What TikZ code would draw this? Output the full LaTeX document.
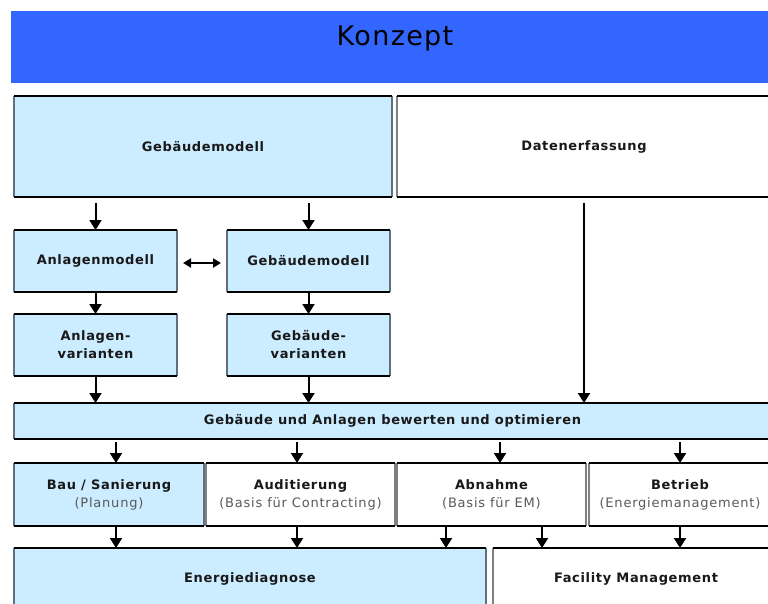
\documentclass[tikz,border=0pt]{standalone}
\usepackage{fontspec}
\setmainfont{DejaVu Sans}
\newfontfamily\lblfont[LetterSpace=5]{DejaVu Sans}
\newfontfamily\subfont[LetterSpace=6]{DejaVu Sans}
\newfontfamily\ttlfont[LetterSpace=5]{DejaVu Sans}
\usetikzlibrary{arrows.meta,calc}
\definecolor{hdr}{RGB}{51,102,255}
\definecolor{lb}{RGB}{204,236,255}
\definecolor{sideb}{RGB}{96,112,128}
\definecolor{sidew}{RGB}{128,128,128}
\definecolor{subgray}{RGB}{90,90,90}
\newcommand\subtxt[1]{{\subfont\mdseries\color{subgray}#1}}
\begin{document}
\begin{tikzpicture}[x=1pt,y=-1pt,
  boxbase/.style={rectangle, inner sep=0pt, outer sep=0pt, align=center,
    font=\lblfont\bfseries\fontsize{13}{18}\selectfont, text=black!90},
  bbox/.style={boxbase, fill=lb},
  wbox/.style={boxbase, fill=white},
  arr/.style={line width=2pt, -{Triangle[width=12pt,length=10pt]}},
  dbl/.style={line width=2pt, {Triangle[width=9pt,length=8pt]}-{Triangle[width=9pt,length=8pt]}}
]
\useasboundingbox (0,0) rectangle (768,603);
\clip (0,0) rectangle (768,603);

% header
\node[rectangle, fill=hdr, minimum width=760pt, minimum height=72pt, inner sep=0pt] (hdr) at (391,47) {};
\node[font=\ttlfont\fontsize{27}{30}\selectfont, text=black] (ttl) at (395,38) {Konzept};

% boxes
\node[bbox, minimum width=378pt, minimum height=101pt] (gm) at (203,146.5) {Gebäudemodell};
\node[wbox, minimum width=374pt, minimum height=101pt] (de) at (584,146.5) {Datenerfassung};

\node[bbox, minimum width=163pt, minimum height=62pt] (am) at (95.5,261) {Anlagenmodell};
\node[bbox, minimum width=163pt, minimum height=62pt] (gm2) at (308.5,261) {Gebäudemodell};

\node[bbox, minimum width=163pt, minimum height=62pt] (av) at (95.5,345) {Anlagen-\\varianten};
\node[bbox, minimum width=163pt, minimum height=62pt] (gv) at (308.5,345) {Gebäude-\\varianten};

\node[bbox, minimum width=757pt, minimum height=36pt] (bar) at (392.5,421) {Gebäude und Anlagen bewerten und optimieren};

\node[bbox, minimum width=190pt, minimum height=63pt] (bau) at (109,494.5) {Bau / Sanierung\\\subtxt{(Planung)}};
\node[wbox, minimum width=189pt, minimum height=63pt] (aud) at (300.5,494.5) {Auditierung\\\subtxt{(Basis für Contracting)}};
\node[wbox, minimum width=189pt, minimum height=63pt] (abn) at (491.5,494.5) {Abnahme\\\subtxt{(Basis für EM)}};
\node[wbox, minimum width=182pt, minimum height=63pt] (bet) at (680,494.5) {Betrieb\\\subtxt{(Energiemanagement)}};

\node[bbox, minimum width=472pt, minimum height=62pt] (ed) at (250,579) {Energiediagnose};
\node[wbox, minimum width=278pt, minimum height=62pt] (fm) at (632,579) {\hspace*{8pt}Facility Management};

% borders
\foreach \n/\c in {gm/sideb, de/sidew, am/sideb, gm2/sideb, av/sideb, gv/sideb, bar/sideb,
                   bau/sideb, aud/sidew, abn/sidew, bet/sidew, ed/sideb, fm/sidew} {
  \draw[line width=2pt, color=\c] (\n.north west) -- (\n.south west) (\n.north east) -- (\n.south east);
  \draw[line width=2pt, black] (\n.north west) -- (\n.north east) (\n.south west) -- (\n.south east);
}

% arrows top
\draw[arr, shorten <=6pt] (gm.south -| am.north) -- (am.north);
\draw[arr, shorten <=6pt] (gm.south -| gm2.north) -- (gm2.north);
\draw[arr, shorten <=6pt] (de.south) -- (de.south |- bar.north);
\draw[arr] (am.south) -- (av.north);
\draw[arr] (gm2.south) -- (gv.north);
\draw[dbl, shorten <=6pt, shorten >=6pt] ([yshift=-2pt]am.east) -- ([yshift=-2pt]gm2.west);
\draw[arr] (av.south) -- (av.south |- bar.north);
\draw[arr] (gv.south) -- (gv.south |- bar.north);

% bar to row
\coordinate (t1) at ([xshift=7pt]bau.north);
\coordinate (t2) at ([xshift=-3.5pt]aud.north);
\coordinate (t3) at ([xshift=8.5pt]abn.north);
\coordinate (t4) at (bet.north);
\foreach \t in {t1,t2,t3,t4} {
  \draw[arr, shorten <=3pt] (bar.south -| \t) -- (\t);
}

% row to bottom
\coordinate (s1) at ([xshift=7pt]bau.south);
\coordinate (s2) at ([xshift=-3.5pt]aud.south);
\coordinate (s3) at ([xshift=-45.5pt]abn.south);
\coordinate (s4) at ([xshift=50.5pt]abn.south);
\coordinate (s5) at (bet.south);
\draw[arr] (s1) -- (s1 |- ed.north);
\draw[arr] (s2) -- (s2 |- ed.north);
\draw[arr] (s3) -- (s3 |- ed.north);
\draw[arr] (s4) -- (s4 |- fm.north);
\draw[arr] (s5) -- (s5 |- fm.north);
\end{tikzpicture}
\end{document}
